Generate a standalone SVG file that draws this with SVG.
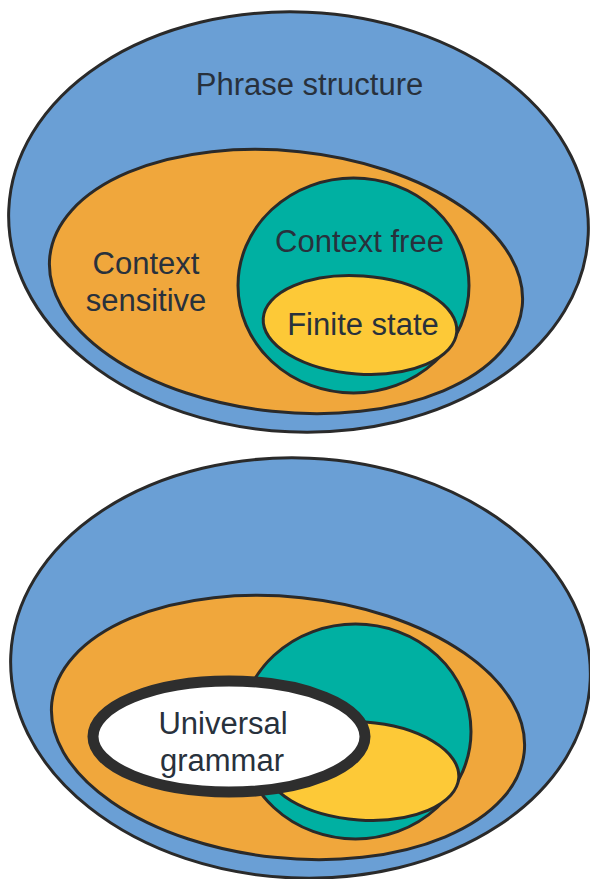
<svg xmlns="http://www.w3.org/2000/svg" width="590" height="879" viewBox="0 0 590 879">
  <style>
    .set { stroke: #2a2a2a; stroke-width: 3; }
    .phrase { fill: #6a9fd5; }
    .sensitive { fill: #f0a73c; }
    .free { fill: #00b0a2; }
    .finite { fill: #fdc937; }
    .ug { fill: #ffffff; stroke: #2e2e2e; stroke-width: 11; }
    .label { font-family: "Liberation Sans", Arial, sans-serif; font-size: 31px; fill: #28313c; text-anchor: middle; }
  </style>
  <rect width="590" height="879" fill="#ffffff"/>

  <!-- Chomsky hierarchy: nested language classes -->
  <g id="hierarchy-top">
    <g id="phrase-structure">
      <ellipse class="set phrase" cx="298.5" cy="222" rx="290" ry="210" transform="rotate(2.5 298.5 222)"/>
      <text class="label" x="309.5" y="95">Phrase structure</text>
    </g>
    <g id="context-sensitive">
      <ellipse class="set sensitive" cx="286" cy="281.5" rx="237.5" ry="130.5" transform="rotate(6 286 281.5)"/>
      <text class="label" x="146" y="274">Context</text>
      <text class="label" x="146" y="311">sensitive</text>
    </g>
    <g id="context-free">
      <ellipse class="set free" cx="353.5" cy="285.5" rx="115.5" ry="107.5"/>
      <text class="label" x="359.5" y="252">Context free</text>
    </g>
    <g id="finite-state">
      <ellipse class="set finite" cx="360" cy="325" rx="97" ry="49" transform="rotate(4 360 325)"/>
      <text class="label" x="363" y="335">Finite state</text>
    </g>
  </g>

  <!-- Same hierarchy with universal grammar cutting across the classes -->
  <g id="hierarchy-bottom">
    <g transform="translate(2 446)">
      <g id="phrase-structure-2">
        <ellipse class="set phrase" cx="298.5" cy="222" rx="290" ry="210" transform="rotate(2.5 298.5 222)"/>
      </g>
      <g id="context-sensitive-2">
        <ellipse class="set sensitive" cx="286" cy="281.5" rx="237.5" ry="130.5" transform="rotate(6 286 281.5)"/>
      </g>
      <g id="context-free-2">
        <ellipse class="set free" cx="353.5" cy="285.5" rx="115.5" ry="107.5"/>
      </g>
      <g id="finite-state-2">
        <ellipse class="set finite" cx="360" cy="325" rx="97" ry="49" transform="rotate(4 360 325)"/>
      </g>
    </g>
    <g id="universal-grammar">
      <ellipse class="ug" cx="229" cy="736.5" rx="136" ry="55.5"/>
      <text class="label" x="223" y="734">Universal</text>
      <text class="label" x="222" y="771">grammar</text>
    </g>
  </g>
</svg>
